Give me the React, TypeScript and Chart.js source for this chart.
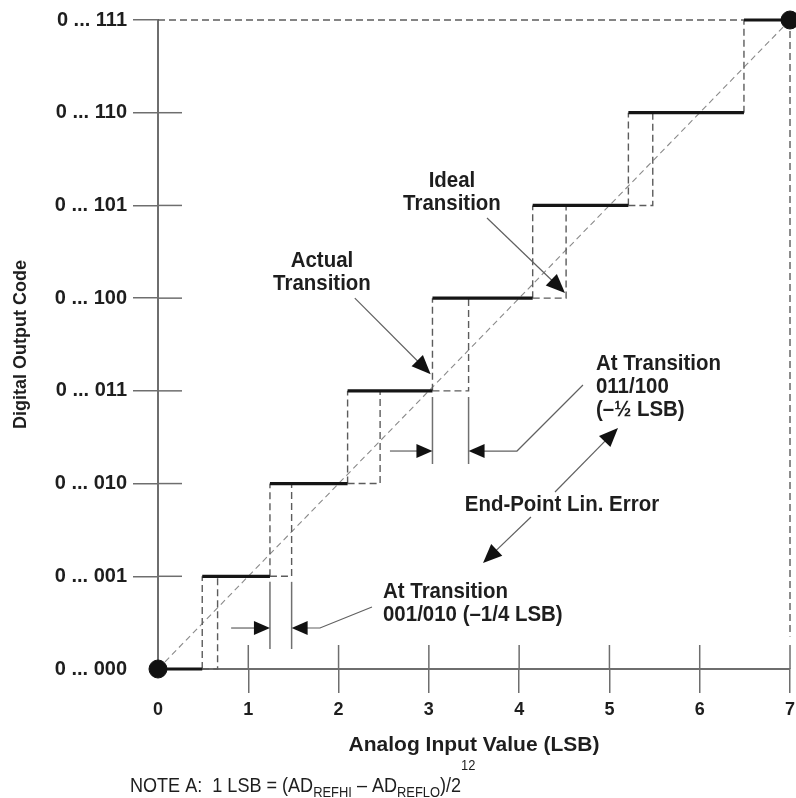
import React, { useEffect, useRef } from 'react';
import { Chart, registerables } from 'chart.js';

Chart.register(...registerables);

// ---------- data ----------
const xTickValues = [0, 1, 2, 3, 4, 5, 6, 7];
const xTickLabels = ['0', '1', '2', '3', '4', '5', '6', '7'];
const outputCodes = [0, 1, 2, 3, 4, 5, 6, 7];
const yTickLabels = [
  '0 ... 000', '0 ... 001', '0 ... 010', '0 ... 011',
  '0 ... 100', '0 ... 101', '0 ... 110', '0 ... 111',
];
// input value (LSB) where the output switches from code i to code i+1
const actualTransitions = [0.49, 1.24, 2.1, 3.04, 4.15, 5.21, 6.49];
const idealTransitions = [0.66, 1.48, 2.46, 3.44, 4.52, 5.48, 6.49];
const fullScaleLSB = 7;
const endPointInputs = [0, 7];
const endPointCodes = [0, 7];

// ---------- styles ----------
const TEXT = '#1e1e1e';
const AXIS = '#6e6e6e';
const DASH = '#5c5c5c';
const SANS = '"Liberation Sans", Arial, sans-serif';

type P = { x: number; y: number | null };

function buildSteps(): P[] {
  const d: P[] = [];
  outputCodes.forEach((c, i) => {
    const start = i === 0 ? 0 : actualTransitions[i - 1];
    const end = i === outputCodes.length - 1 ? fullScaleLSB : actualTransitions[i];
    d.push({ x: start, y: c }, { x: end, y: c }, { x: end, y: null });
  });
  return d;
}

function buildTransitions(): P[] {
  const d: P[] = [];
  actualTransitions.forEach((a, i) => {
    const id = idealTransitions[i];
    const lo = outputCodes[i];
    const hi = outputCodes[i + 1];
    d.push({ x: a, y: lo }, { x: a, y: hi }, { x: a, y: null });
    if (id !== a) {
      d.push({ x: a, y: lo }, { x: id, y: lo }, { x: id, y: hi }, { x: id, y: null });
    }
  });
  return d;
}

function buildFrame(): P[] {
  const top = outputCodes[outputCodes.length - 1];
  return [
    { x: 0, y: top },
    { x: actualTransitions[actualTransitions.length - 1], y: top },
    { x: fullScaleLSB, y: null },
    { x: fullScaleLSB, y: top },
    { x: fullScaleLSB, y: 0.35 },
  ];
}

function arrowHead(ctx: CanvasRenderingContext2D, fx: number, fy: number, tx: number, ty: number, len: number, half: number) {
  const a = Math.atan2(ty - fy, tx - fx);
  const bx = tx - len * Math.cos(a);
  const by = ty - len * Math.sin(a);
  ctx.beginPath();
  ctx.moveTo(tx, ty);
  ctx.lineTo(bx + half * Math.sin(a), by - half * Math.cos(a));
  ctx.lineTo(bx - half * Math.sin(a), by + half * Math.cos(a));
  ctx.closePath();
  ctx.fill();
}

function condensedText(ctx: CanvasRenderingContext2D, t: string, x: number, y: number, align: CanvasTextAlign, sx: number) {
  ctx.save();
  ctx.translate(x, y);
  ctx.scale(sx, 1);
  ctx.textAlign = align;
  ctx.fillText(t, 0, 0);
  ctx.restore();
}

const annotationPlugin = {
  id: 'adcAnnotations',
  afterDatasetsDraw(chart: any) {
    const ctx: CanvasRenderingContext2D = chart.ctx;
    const xs = chart.scales.x;
    const ys = chart.scales.y;
    const X = (v: number) => xs.getPixelForValue(v);
    const Y = (v: number) => ys.getPixelForValue(v);
    const line = (x1: number, y1: number, x2: number, y2: number) => {
      ctx.beginPath();
      ctx.moveTo(x1, y1);
      ctx.lineTo(x2, y2);
      ctx.stroke();
    };
    ctx.save();
    ctx.setLineDash([]);
    ctx.lineCap = 'butt';

    // inner halves of the crossing tick marks
    ctx.strokeStyle = AXIS;
    ctx.lineWidth = 1.5;
    outputCodes.forEach((c) => {
      if (c > 0 && c < 7) line(X(0), Y(c), X(0) + 24, Y(c));
    });
    xTickValues.forEach((v) => {
      if (v > 0) line(X(v), Y(0), X(v), Y(0) - 24);
    });

    // dimension markers
    const dims = [
      { a: actualTransitions[1], b: idealTransitions[1], y1: 0.94, y2: 0.216, ay: 0.442, lt: 0.81, rt: 1.794, le: [2.37, 0.669] },
      { a: actualTransitions[3], b: idealTransitions[3], y1: 2.934, y2: 2.211, ay: 2.351, lt: 2.569, rt: 3.976, le: [4.707, 3.063] },
    ];
    ctx.fillStyle = '#111';
    dims.forEach((d) => {
      ctx.strokeStyle = '#707070';
      ctx.lineWidth = 1.5;
      line(X(d.a), Y(d.y1), X(d.a), Y(d.y2));
      line(X(d.b), Y(d.y1), X(d.b), Y(d.y2));
      ctx.lineWidth = 1.2;
      ctx.strokeStyle = '#606060';
      const yy = Y(d.ay);
      line(X(d.lt), yy, X(d.a) - 14, yy);
      arrowHead(ctx, X(d.lt), yy, X(d.a), yy, 16, 7);
      ctx.beginPath();
      ctx.moveTo(X(d.b) + 14, yy);
      ctx.lineTo(X(d.rt), yy);
      ctx.lineTo(X(d.le[0]), Y(d.le[1]));
      ctx.stroke();
      arrowHead(ctx, X(d.rt), yy, X(d.b), yy, 16, 7);
    });

    // pointer arrows
    const pointers = [
      [2.18, 4.0, 3.02, 3.18],
      [3.644, 4.865, 4.508, 4.056],
      [4.397, 1.909, 5.095, 2.6],
      [4.131, 1.64, 3.6, 1.143],
    ];
    pointers.forEach(([fx, fy, tx, ty]) => {
      const x1 = X(fx), y1 = Y(fy), x2 = X(tx), y2 = Y(ty);
      const a = Math.atan2(y2 - y1, x2 - x1);
      ctx.strokeStyle = '#606060';
      ctx.lineWidth = 1.2;
      line(x1, y1, x2 - 14 * Math.cos(a), y2 - 14 * Math.sin(a));
      arrowHead(ctx, x1, y1, x2, y2, 19, 8);
    });

    // labels
    ctx.fillStyle = TEXT;
    ctx.font = `bold 22px ${SANS}`;
    ctx.textBaseline = 'alphabetic';
    const lh = 23;
    const sx = 0.93;
    const block = (lines: string[], x: number, y: number, align: CanvasTextAlign) => {
      lines.forEach((t, i) => condensedText(ctx, t, x, y + i * lh, align, sx));
    };
    block(['Actual', 'Transition'], X(1.816), Y(4.336), 'center');
    block(['Ideal', 'Transition'], X(3.256), Y(5.199), 'center');
    block(['At Transition', '011/100', '(\u2013\u00bd LSB)'], X(4.851), Y(3.225), 'left');
    block(['End-Point Lin. Error'], X(4.474), Y(1.704), 'center');
    block(['At Transition', '001/010 (\u20131/4 LSB)'], X(2.492), Y(0.766), 'left');

    // note
    const segs: [string, number, number][] = [
      ['NOTE A:  1 LSB = (AD', 21, 0],
      ['REFHI', 15, 5],
      [' \u2013 AD', 21, 0],
      ['REFLO', 15, 5],
      [')/2', 21, 0],
      ['12', 15, -22],
    ];
    const nsx = 0.86;
    let nx = 130;
    const nb = chart.height - 6;
    segs.forEach(([t, s, dy]) => {
      ctx.font = `${s}px ${SANS}`;
      condensedText(ctx, t, nx, nb + dy, 'left', nsx);
      nx += ctx.measureText(t).width * nsx;
    });
    ctx.restore();
  },
};

export default function App() {
  const ref = useRef<HTMLCanvasElement | null>(null);
  useEffect(() => {
    if (!ref.current) return;
    const tickColor = (c: any) => (c.tick && c.tick.value === 0 ? 'rgba(0,0,0,0)' : AXIS);
    const chart = new Chart(ref.current, {
      type: 'scatter',
      data: {
        datasets: [
          {
            data: endPointInputs.map((x, i) => ({ x, y: endPointCodes[i] })),
            pointRadius: 9,
            pointBackgroundColor: '#111',
            pointBorderColor: '#111',
            pointBorderWidth: 1,
            showLine: false,
            order: 0,
            clip: false,
          } as any,
          {
            data: buildSteps(),
            showLine: true,
            borderColor: '#151515',
            borderWidth: 3.2,
            pointRadius: 0,
            spanGaps: false,
            order: 1,
            clip: false,
          } as any,
          {
            data: buildTransitions(),
            showLine: true,
            borderColor: DASH,
            borderWidth: 1.4,
            borderDash: [7, 4],
            pointRadius: 0,
            spanGaps: false,
            order: 2,
            clip: false,
          } as any,
          {
            data: buildFrame(),
            showLine: true,
            borderColor: DASH,
            borderWidth: 1.4,
            borderDash: [7, 4],
            pointRadius: 0,
            spanGaps: false,
            order: 3,
            clip: false,
          } as any,
          {
            data: [
              { x: 0, y: 0 },
              { x: fullScaleLSB, y: outputCodes[outputCodes.length - 1] },
            ],
            showLine: true,
            borderColor: '#8a8a8a',
            borderWidth: 1.1,
            borderDash: [6, 4],
            pointRadius: 0,
            order: 4,
            clip: false,
          } as any,
        ],
      },
      options: {
        responsive: true,
        maintainAspectRatio: false,
        animation: false,
        events: [],
        layout: { autoPadding: false, padding: { left: 0, right: 6, top: 20, bottom: 40 } },
        plugins: { legend: { display: false }, tooltip: { enabled: false } },
        scales: {
          x: {
            type: 'linear',
            min: 0,
            max: fullScaleLSB,
            afterFit: (s: any) => {
              s.height = 89;
              s.paddingLeft = 0;
              s.paddingRight = 0;
            },
            ticks: {
              stepSize: 1,
              autoSkip: false,
              maxRotation: 0,
              callback: (v: any) => xTickLabels[xTickValues.indexOf(Number(v))] ?? '',
              font: { family: SANS, size: 18, weight: 'bold' },
              color: TEXT,
              padding: 6,
            },
            grid: { drawOnChartArea: false, drawTicks: true, tickLength: 24, color: tickColor, lineWidth: 1.5 },
            border: { display: true, color: AXIS, width: 2 },
            title: {
              display: true,
              text: 'Analog Input Value (LSB)',
              font: { family: SANS, size: 21, weight: 'bold' },
              color: TEXT,
              padding: { top: 0, bottom: 0 },
            },
          },
          y: {
            type: 'linear',
            min: 0,
            max: 7,
            afterFit: (s: any) => {
              s.width = 158;
              s.paddingTop = 0;
              s.paddingBottom = 0;
            },
            ticks: {
              stepSize: 1,
              autoSkip: false,
              callback: (v: any) => yTickLabels[outputCodes.indexOf(Number(v))] ?? '',
              font: { family: SANS, size: 20, weight: 'bold' },
              color: TEXT,
              padding: 6,
            },
            grid: { drawOnChartArea: false, drawTicks: true, tickLength: 25, color: tickColor, lineWidth: 1.5 },
            border: { display: true, color: AXIS, width: 2 },
            title: {
              display: true,
              text: 'Digital Output Code',
              font: { family: SANS, size: 18, weight: 'bold' },
              color: TEXT,
              padding: { top: 10, bottom: 0 },
            },
          },
        },
      } as any,
      plugins: [annotationPlugin],
    });
    return () => chart.destroy();
  }, []);

  return (
    <div style={{ position: 'fixed', left: 0, top: 0, width: 796, height: 798, background: '#fff' }}>
      <canvas ref={ref} />
    </div>
  );
}
